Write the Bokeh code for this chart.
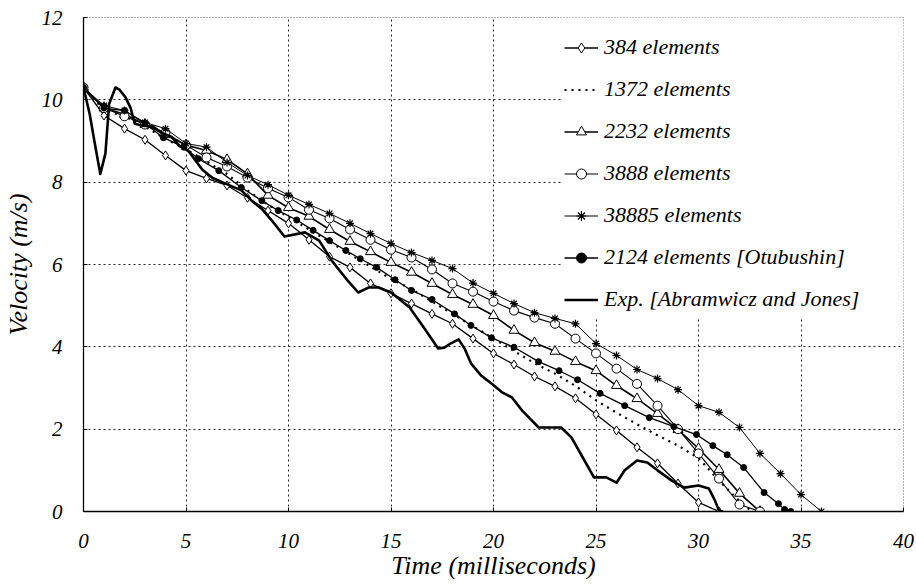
from bokeh.plotting import figure
from bokeh.models import Range1d, FixedTicker, Legend, LegendItem, BoxAnnotation
from bokeh.embed import file_html
from bokeh.resources import INLINE

FONT = "Liberation Serif"

x_ticks = [0, 5, 10, 15, 20, 25, 30, 35, 40]
y_ticks = [0, 2, 4, 6, 8, 10, 12]

t_384 = list(range(32))
v_384 = [10.3, 9.62, 9.3, 9.03, 8.65, 8.28, 8.09, 7.92, 7.62, 7.31, 7.0, 6.6, 6.19, 5.93, 5.54, 5.3,
         5.05, 4.8, 4.56, 4.2, 3.84, 3.57, 3.28, 3.04, 2.75, 2.36, 1.97, 1.56, 1.17, 0.68, 0.22, 0.0]

t_1372 = [0, 1, 2, 3, 4, 5, 6, 7, 8, 9, 10, 11, 12, 13, 14, 15, 16, 17, 18, 19, 20, 21, 22, 23, 24,
          25, 26, 27, 28, 29, 30, 31, 32, 32.6]
v_1372 = [10.3, 9.75, 9.6, 9.35, 9.05, 8.8, 8.5, 8.2, 7.8, 7.45, 7.15, 6.85, 6.55, 6.25, 5.95, 5.65,
          5.4, 5.1, 4.8, 4.5, 4.2, 3.9, 3.6, 3.35, 3.05, 2.7, 2.4, 2.12, 1.85, 1.6, 1.3, 0.75, 0.25, 0.0]

t_2232 = list(range(34))
v_2232 = [10.3, 9.8, 9.65, 9.4, 9.15, 8.9, 8.77, 8.55, 8.2, 7.68, 7.38, 7.17, 6.85, 6.56, 6.31, 6.05,
          5.81, 5.54, 5.27, 5.03, 4.76, 4.4, 4.1, 3.89, 3.64, 3.42, 3.06, 2.74, 2.38, 1.99, 1.53, 1.02,
          0.44, 0.0]

t_3888 = list(range(34))
v_3888 = [10.3, 9.8, 9.6, 9.4, 9.2, 8.9, 8.6, 8.38, 8.11, 7.85, 7.63, 7.33, 7.12, 6.85, 6.6, 6.36,
          6.17, 5.88, 5.54, 5.34, 5.1, 4.88, 4.71, 4.56, 4.2, 3.84, 3.47, 3.1, 2.57, 2.0, 1.41, 0.8,
          0.17, 0.0]

t_38885 = list(range(37))
v_38885 = [10.3, 9.86, 9.74, 9.45, 9.3, 8.94, 8.85, 8.48, 8.16, 7.94, 7.68, 7.46, 7.24, 7.0, 6.75,
           6.51, 6.29, 6.1, 5.9, 5.55, 5.3, 5.05, 4.83, 4.69, 4.56, 4.08, 3.79, 3.45, 3.23, 2.96, 2.57,
           2.41, 2.04, 1.41, 0.92, 0.41, 0.0]

t_2124 = [0, 1.0, 2.0, 3.0, 3.9, 4.9, 5.6, 6.6, 7.7, 8.7, 9.5, 10.4, 11.2, 12.0, 12.8, 13.5, 14.3,
          15.2, 16.0, 17.0, 18.1, 18.9, 19.9, 21.0, 22.2, 23.2, 24.1, 25.2, 26.4, 27.6, 28.8, 29.9,
          30.7, 31.4, 32.2, 33.2, 33.9, 34.2, 34.5]
v_2124 = [10.3, 9.8, 9.74, 9.42, 9.08, 8.85, 8.57, 8.28, 7.87, 7.55, 7.31, 7.08, 6.83, 6.58, 6.34,
          6.14, 5.93, 5.63, 5.37, 5.15, 4.8, 4.52, 4.22, 3.99, 3.64, 3.42, 3.2, 2.87, 2.57, 2.28, 2.06,
          1.87, 1.6, 1.38, 1.07, 0.46, 0.19, 0.05, 0.0]

t_exp = [0, 0.3, 0.53, 0.82, 1.07, 1.25, 1.56, 1.75, 2.05, 2.3, 2.5, 2.9, 3.4, 3.8, 4.3, 4.7, 5.1,
         5.8, 6.3, 6.9, 7.7, 8.2, 8.7, 9.3, 9.8, 10.5, 10.8, 11.5, 12.1, 12.9, 13.4, 13.9, 14.4, 15.0,
         15.9, 16.6, 17.3, 17.6, 17.9, 18.3, 18.6, 18.9, 19.4, 19.9, 20.4, 20.9, 21.4, 21.7, 22.2,
         23.3, 23.8, 24.3, 24.9, 25.5, 26.0, 26.4, 27.0, 27.5, 28.0, 28.7, 29.3, 30.0, 30.5, 30.8,
         31.0, 31.2]
v_exp = [10.3, 9.66, 9.0, 8.2, 8.7, 9.9, 10.3, 10.25, 10.06, 9.8, 9.42, 9.37, 9.35, 9.2, 9.1, 8.87,
         8.77, 8.3, 8.1, 7.97, 7.8, 7.55, 7.35, 7.0, 6.68, 6.75, 6.78, 6.58, 6.1, 5.6, 5.32, 5.44,
         5.44, 5.32, 4.96, 4.47, 3.96, 3.98, 4.08, 4.18, 3.95, 3.6, 3.3, 3.11, 2.9, 2.77, 2.45, 2.3,
         2.04, 2.04, 1.8, 1.36, 0.83, 0.83, 0.7, 1.0, 1.24, 1.19, 1.0, 0.75, 0.58, 0.63, 0.56, 0.27,
         0.02, 0.0]

labels = ["384 elements", "1372 elements", "2232 elements", "3888 elements", "38885 elements",
          "2124 elements [Otubushin]", "Exp. [Abramwicz and Jones]"]

p = figure(width=916, height=586, output_backend="svg", toolbar_location=None,
           x_range=Range1d(0, 40), y_range=Range1d(0, 12),
           min_border_left=81, min_border_right=13, min_border_top=17, min_border_bottom=75,
           background_fill_color="white", border_fill_color="white")

p.xaxis.ticker = FixedTicker(ticks=x_ticks)
p.yaxis.ticker = FixedTicker(ticks=y_ticks)
for g in (p.xgrid, p.ygrid):
    g.grid_line_color = "black"
    g.grid_line_dash = "2 3"
    g.grid_line_width = 1
    g.grid_line_alpha = 0.85
p.outline_line_color = "black"
p.outline_line_dash = "1 2"
p.outline_line_alpha = 0.6

p.add_layout(BoxAnnotation(left=23.3, right=40, bottom=4.7, top=12, fill_color="white",
                           fill_alpha=1.0, line_color=None, level="underlay"))

for ax in (p.xaxis, p.yaxis):
    ax.axis_line_color = "black"
    ax.axis_line_width = 1.3
    ax.major_tick_in = 4
    ax.major_tick_out = 0
    ax.minor_tick_line_color = None
    ax.major_tick_line_color = "black"
    ax.major_label_text_font = FONT
    ax.major_label_text_font_style = "italic"
    ax.major_label_text_font_size = "21px"
    ax.major_label_text_color = "black"
    ax.axis_label_text_font = FONT
    ax.axis_label_text_font_style = "italic"
    ax.axis_label_text_font_size = "26px"
    ax.axis_label_text_color = "black"

p.xaxis.major_label_standoff = 22
p.yaxis.major_label_standoff = 21
p.xaxis.axis_label = "Time (milliseconds)"
p.yaxis.axis_label = "Velocity (m/s)"
p.yaxis.axis_label_standoff = 6
p.xaxis.axis_label_standoff = 0

items = []

l1 = p.line(t_384, v_384, line_color="black", line_width=1.3)
m1 = p.scatter(t_384, v_384, marker="diamond", size=9, line_color="black", fill_color="white", line_width=1)
items.append(LegendItem(label=labels[0], renderers=[l1, m1]))

l2 = p.line(t_1372, v_1372, line_color="black", line_width=2.2, line_dash="2 5")
items.append(LegendItem(label=labels[1], renderers=[l2]))

l3 = p.line(t_2232, v_2232, line_color="black", line_width=1.6)
m3 = p.scatter(t_2232, v_2232, marker="triangle", size=10, line_color="black", fill_color="white", line_width=1)
items.append(LegendItem(label=labels[2], renderers=[l3, m3]))

l4 = p.line(t_3888, v_3888, line_color="black", line_width=1.1)
m4 = p.scatter(t_3888, v_3888, marker="circle", size=9, line_color="black", fill_color="white", line_width=1)
items.append(LegendItem(label=labels[3], renderers=[l4, m4]))

l5 = p.line(t_38885, v_38885, line_color="black", line_width=1.0)
m5 = p.scatter(t_38885, v_38885, marker="asterisk", size=8, line_color="black", line_width=1.2)
items.append(LegendItem(label=labels[4], renderers=[l5, m5]))

l6 = p.line(t_2124, v_2124, line_color="black", line_width=1.3)
m6 = p.scatter(t_2124, v_2124, marker="circle", size=6, line_color="black", fill_color="black")
items.append(LegendItem(label=labels[5], renderers=[l6, m6]))

l7 = p.line(t_exp, v_exp, line_color="black", line_width=2.6, line_join="round")
items.append(LegendItem(label=labels[6], renderers=[l7]))

legend = Legend(items=items, location=(481, 199), orientation="vertical",
                background_fill_color="white", background_fill_alpha=1.0,
                border_line_color=None, padding=6, margin=0, spacing=16,
                glyph_width=34, glyph_height=25, label_height=25, label_standoff=6,
                label_text_font=FONT, label_text_font_style="italic",
                label_text_font_size="22px", label_text_color="black")
p.add_layout(legend)

open("out.html", "w").write(file_html(p, INLINE))
